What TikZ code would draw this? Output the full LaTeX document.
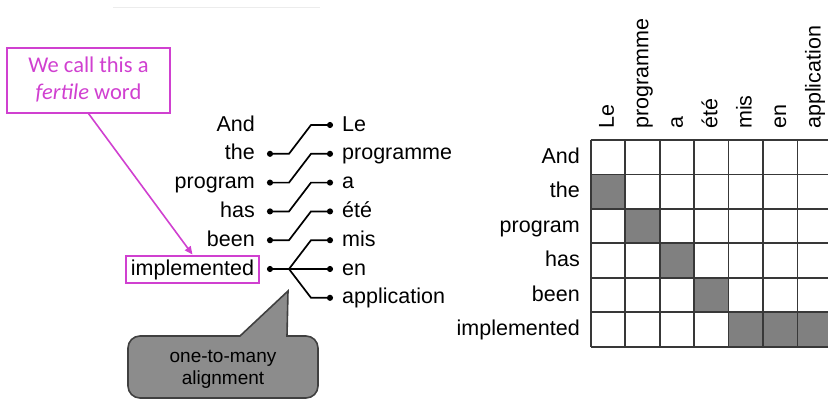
\documentclass[tikz,border=0pt]{standalone}
\usepackage{fontspec}
\setmainfont{Liberation Sans}
\newfontfamily\calibri{Carlito}
\usetikzlibrary{arrows.meta}
\definecolor{fertpink}{RGB}{208,64,208}
\definecolor{cellgray}{RGB}{128,128,128}
\definecolor{bubgray}{RGB}{140,140,140}

\begin{document}
\begin{tikzpicture}[x=1pt,y=-1pt,
    word/.style={inner sep=0pt,text height=16pt,text depth=4pt,font=\fontsize{21.5}{24}\selectfont},
    link/.style={line width=1.7pt,{Circle[length=6pt]}-{Circle[length=6pt]}},
    fanlink/.style={line width=1.7pt,-{Circle[length=6pt]}},
    pinkbox/.style={draw=fertpink,text=fertpink,line width=2pt,inner sep=0pt,
      minimum width=163pt,minimum height=65pt,align=center,
      font=\calibri\fontsize{22.5}{27}\selectfont},
    gridline/.style={draw=black!78,line width=1.8pt},
    bubble/.style={draw=black!75,fill=bubgray,line width=1.6pt}]
  \useasboundingbox (0,0) rectangle (828,400);
  \clip (0,0) rectangle (828,400);
  \draw[gray!15,line width=0.8pt] (113,7) -- (320,7);

  % sentence pair
  \foreach \w [count=\i] in {And,the,program,has,been}
    \node[word,anchor=east] (e\i) at (255,{125+28.8*(\i-1)}) {\w};
  \node[word,anchor=east,draw=fertpink,line width=2pt,inner xsep=5pt,inner ysep=3.5pt]
    (e6) at (260,269) {implemented};
  \foreach \w [count=\i] in {Le,programme,a,été,mis,en,application}
    \node[word,anchor=west] (f\i) at (342,{125+28.8*(\i-1)}) {\w};

  \foreach \i [evaluate=\i as \j using int(\i-1)] in {2,...,5}
    \draw[link] ([xshift=12]e\i.east) -- ++(22,0) -- ([xshift=-31]f\j.west) -- ([xshift=-9]f\j.west);
  \draw[link] ([xshift=7]e6.east) -- ++(22,0) coordinate (jn) -- ([xshift=-31]f5.west) -- ([xshift=-9]f5.west);
  \draw[fanlink] (jn) -- ([xshift=-9]f6.west);
  \draw[fanlink] (jn) -- ([xshift=-31]f7.west) -- ([xshift=-9]f7.west);

  % fertile word note
  \node[pinkbox] (fert) at (88.5,80) {We call this a\\\textit{fertile} word};
  \draw[fertpink,line width=1.6pt,-{Triangle[length=8pt,width=7pt]}] (fert.south) -- (e6.north);

  % callout
  \draw[bubble] (240,336) -- (288,291) -- (287,336) [rounded corners=12pt] -- (318,336)
    -- (318,398) -- (128,398) -- (128,336) [sharp corners] -- cycle;
  \node[align=center,font=\fontsize{19}{22}\selectfont] (bub) at (223,369) {one-to-many\\alignment};

  % alignment matrix
  \foreach \c/\r in {1/2,2/3,3/4,4/5,5/6,6/6,7/6}
    \fill[cellgray] ({590.7+34.45*(\c-1)},{140+34.45*(\r-1)}) rectangle ++(34.45,34.45);
  \foreach \i in {0,...,7}
    \draw[gridline] ({590.7+34.45*\i},140) -- ++(0,206.7);
  \foreach \j in {0,...,6}
    \draw[gridline] (590.7,{140+34.45*\j}) -- ++(241.15,0);
  \foreach \w [count=\i] in {And,the,program,has,been,implemented}
    \node[word,anchor=east] (r\i) at (580,{140+34.45*(\i-0.5)}) {\w};
  \foreach \w [count=\i] in {Le,programme,a,été,mis,en,application}
    \node[word,rotate=90,anchor=west] (c\i) at ({590.7+34.45*(\i-0.5)},129) {\w};
\end{tikzpicture}
\end{document}
